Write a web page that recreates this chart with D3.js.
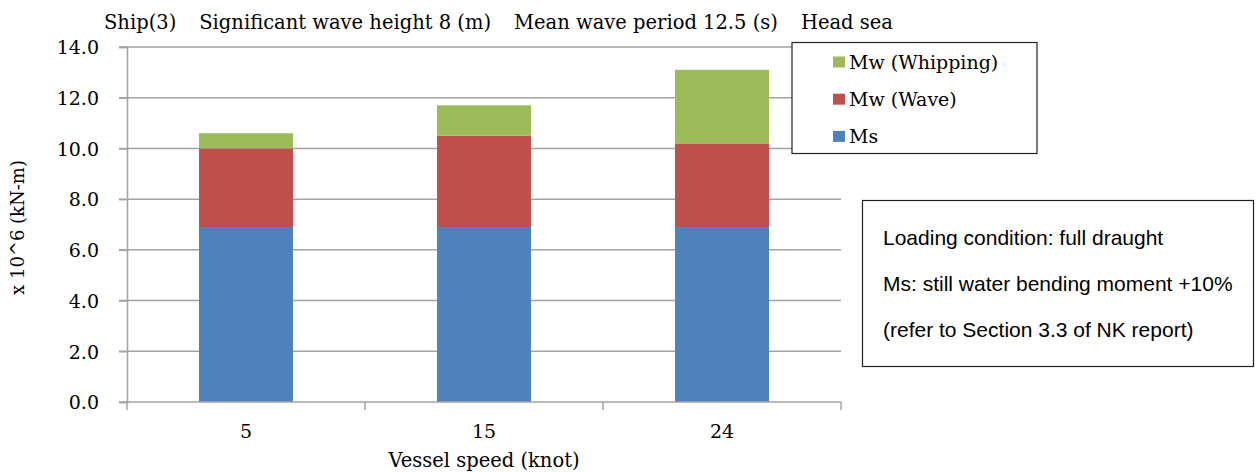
<!DOCTYPE html>
<html>
<head>
<meta charset="utf-8">
<script src="https://cdn.jsdelivr.net/npm/d3@7/dist/d3.min.js"></script>
<style>
  html, body { margin: 0; padding: 0; background: #fff; }
  svg { display: block; }
</style>
</head>
<body>
<svg id="chart" width="1256" height="472"></svg>
<script>
// Vessel speeds (knot) and bending moment components (x 10^6 kN-m)
const speeds = ["5", "15", "24"];
const msValues = [6.9, 6.9, 6.9];
const waveValues = [3.1, 3.6, 3.3];
const whippingValues = [0.6, 1.2, 2.9];
const yTicks = [0, 2, 4, 6, 8, 10, 12, 14];
const seriesNames = ["Ms", "Mw (Wave)", "Mw (Whipping)"];
const seriesColors = ["#4F81BD", "#C0504D", "#9BBB59"];
const titleParts = ["Ship(3)", "Significant wave height 8 (m)", "Mean wave period 12.5 (s)", "Head sea"];
const noteLines = [
  "Loading condition: full draught",
  "Ms: still water bending moment +10%",
  "(refer to Section 3.3 of NK report)"
];

const serif = "'DejaVu Serif', 'Liberation Serif', serif";
const sans = "'Liberation Sans', Arial, sans-serif";
const gridColor = "#a3a3a3";

const svg = d3.select("#chart");
const plot = { left: 127, right: 841, top: 47, bottom: 402 };

const x = d3.scaleBand()
  .domain(speeds)
  .range([plot.left, plot.right])
  .paddingInner(0.605)
  .paddingOuter(0.3025);

const y = d3.scaleLinear().domain([0, 14]).range([plot.bottom, plot.top]);

// Stack table built from the series arrays
const rows = speeds.map((s, i) => ({
  speed: s,
  "Ms": msValues[i],
  "Mw (Wave)": waveValues[i],
  "Mw (Whipping)": whippingValues[i]
}));
const stacked = d3.stack().keys(seriesNames)(rows);

// Horizontal gridlines (with tick stubs to the left of the axis)
svg.append("g")
  .selectAll("line")
  .data(yTicks.filter(t => t > 0))
  .join("line")
  .attr("x1", plot.left - 8)
  .attr("x2", plot.right)
  .attr("y1", d => y(d))
  .attr("y2", d => y(d))
  .attr("stroke", gridColor)
  .attr("stroke-width", 1.5);

// Bars
svg.append("g")
  .selectAll("g")
  .data(stacked)
  .join("g")
  .attr("fill", (d, i) => seriesColors[i])
  .selectAll("rect")
  .data(d => d)
  .join("rect")
  .attr("x", d => x(d.data.speed))
  .attr("width", x.bandwidth())
  .attr("y", d => y(d[1]))
  .attr("height", d => y(d[0]) - y(d[1]));

// Y axis
const yAxis = d3.axisLeft(y)
  .tickValues(yTicks)
  .tickFormat(d3.format(".1f"))
  .tickSize(8)
  .tickPadding(20);
const gy = svg.append("g")
  .attr("transform", `translate(${plot.left},0)`)
  .call(yAxis);
gy.select(".domain").attr("stroke", gridColor).attr("stroke-width", 1.5);
gy.selectAll(".tick line").attr("stroke", gridColor).attr("stroke-width", 1.5);
gy.selectAll(".tick text")
  .attr("fill", "#000")
  .attr("dy", "0.36em")
  .style("font-family", serif)
  .style("font-size", "19px");

// X axis: tick marks at band boundaries, labels at band centres
const gx = svg.append("g").attr("transform", `translate(0,${plot.bottom})`);
gx.append("line")
  .attr("x1", plot.left - 8).attr("x2", plot.right)
  .attr("stroke", gridColor).attr("stroke-width", 1.5);
const boundaries = speeds.map(s => x(s) - x.step() * x.paddingOuter()).concat([plot.right]);
gx.selectAll("line.b")
  .data(boundaries)
  .join("line")
  .attr("class", "b")
  .attr("x1", d => d).attr("x2", d => d)
  .attr("y1", 0).attr("y2", 8)
  .attr("stroke", gridColor).attr("stroke-width", 1.5);
gx.selectAll("text")
  .data(speeds)
  .join("text")
  .attr("x", d => x(d) + x.bandwidth() / 2)
  .attr("y", 36)
  .attr("text-anchor", "middle")
  .style("font-family", serif)
  .style("font-size", "19px")
  .text(d => d);

// Axis titles
svg.append("text")
  .attr("x", (plot.left + plot.right) / 2)
  .attr("y", 467)
  .attr("text-anchor", "middle")
  .style("font-family", serif)
  .style("font-size", "19.5px")
  .text("Vessel speed (knot)");

svg.append("text")
  .attr("transform", `translate(24,${(plot.top + plot.bottom) / 2 + 3}) rotate(-90)`)
  .attr("text-anchor", "middle")
  .style("font-family", serif)
  .style("font-size", "18px")
  .text("x 10^6 (kN-m)");

// Chart title: pieces laid out left to right with a fixed gap
const title = svg.append("g");
let cursor = 104;
titleParts.forEach(part => {
  const t = title.append("text")
    .attr("x", cursor)
    .attr("y", 29)
    .style("font-family", serif)
    .style("font-size", "19.5px")
    .text(part);
  cursor += t.node().getComputedTextLength() + 23;
});

// Legend (top entry is the top of the stack)
const legend = svg.append("g");
legend.append("rect")
  .attr("x", 792).attr("y", 42.5)
  .attr("width", 245).attr("height", 111)
  .attr("fill", "#fff").attr("stroke", "#222").attr("stroke-width", 1.2);
const legendOrder = [2, 1, 0];
legend.selectAll("g")
  .data(legendOrder)
  .join("g")
  .attr("transform", (d, i) => `translate(833,${62 + i * 37.2})`)
  .each(function(d) {
    const g = d3.select(this);
    g.append("rect").attr("x", 0).attr("y", -5.5).attr("width", 12).attr("height", 11)
      .attr("fill", seriesColors[d]);
    g.append("text").attr("x", 16).attr("y", 7)
      .style("font-family", serif).style("font-size", "19px")
      .text(seriesNames[d]);
  });

// Note box
const note = svg.append("g");
note.append("rect")
  .attr("x", 862.5).attr("y", 200.5)
  .attr("width", 391).attr("height", 166)
  .attr("fill", "#fff").attr("stroke", "#222").attr("stroke-width", 1.2);
note.selectAll("text")
  .data(noteLines)
  .join("text")
  .attr("x", 883)
  .attr("y", (d, i) => 245 + i * 46)
  .style("font-family", sans)
  .style("font-size", "21px")
  .text(d => d);
</script>
</body>
</html>
